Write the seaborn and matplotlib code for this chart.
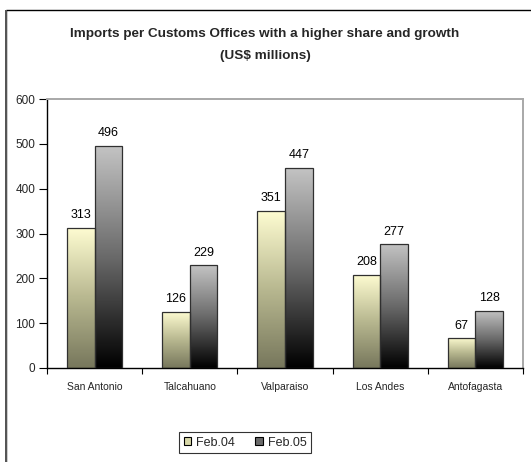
import numpy as np
import pandas as pd
import matplotlib
matplotlib.use("Agg")
import matplotlib.pyplot as plt
from matplotlib.colors import LinearSegmentedColormap
from matplotlib.patches import Rectangle, Patch
import seaborn as sns

# Imports per customs office, US$ millions
offices = ["San Antonio", "Talcahuano", "Valparaiso", "Los Andes", "Antofagasta"]
feb04 = [313, 126, 351, 208, 67]
feb05 = [496, 229, 447, 277, 128]
periods = ["Feb.04", "Feb.05"]
y_ticks = [0, 100, 200, 300, 400, 500, 600]

df = pd.DataFrame({
    "office": offices * 2,
    "period": [periods[0]] * len(offices) + [periods[1]] * len(offices),
    "value": feb04 + feb05,
})

sns.set_style("white")
plt.rcParams["font.family"] = ["Liberation Sans", "DejaVu Sans"]

fig = plt.figure(figsize=(5.31, 4.62), dpi=100)
ax = fig.add_axes([47 / 531, 1 - 368 / 462, 476 / 531, 269 / 462])

sns.barplot(data=df, x="office", y="value", hue="period", order=offices,
            hue_order=periods, width=0.58, gap=0, legend=False, ax=ax,
            edgecolor="#303030", linewidth=0.9, saturation=1)

# vertical gradients (light top, dark bottom) for each series
grad_maps = {
    periods[0]: LinearSegmentedColormap.from_list("g04", ["#77775c", "#b8b890", "#fffdd2"]),
    periods[1]: LinearSegmentedColormap.from_list("g05", ["#000000", "#6a6a6a", "#c4c4c4"]),
}
grad = np.linspace(0, 1, 256).reshape(-1, 1)
for container, period in zip(ax.containers, periods):
    for bar in container:
        x0, y0 = bar.get_x(), bar.get_y()
        w, h = bar.get_width(), bar.get_height()
        bar.set_facecolor("none")
        bar.set_zorder(3)
        img = ax.imshow(grad, cmap=grad_maps[period], origin="lower", aspect="auto",
                        extent=[x0, x0 + w, y0, y0 + h], zorder=2, interpolation="bilinear")
        img.set_clip_path(bar)
    ax.bar_label(container, fmt="%d", padding=4.5, fontsize=9, color="#000000")

ax.set_xlim(-0.5, len(offices) - 0.5)
ax.set_ylim(0, 600)
ax.set_yticks(y_ticks)
ax.set_xlabel("")
ax.set_ylabel("")

ax.tick_params(axis="y", which="major", direction="out", length=5.5, width=0.8,
               color="black", labelsize=8.5, pad=3, left=True)
ax.tick_params(axis="x", which="major", length=0, labelsize=7.5, pad=10)
ax.set_xticks(np.arange(-0.5, len(offices)), minor=True)
ax.tick_params(axis="x", which="minor", direction="out", length=4, width=0.8,
               color="black", bottom=True)

for side in ["left", "bottom"]:
    ax.spines[side].set_color("black")
    ax.spines[side].set_linewidth(1.0)
for side in ["top", "right"]:
    ax.spines[side].set_visible(True)
    ax.spines[side].set_color("#a8a8a8")
    ax.spines[side].set_linewidth(1.4)

fig.text(0.499, 1 - 33.5 / 462, "Imports per Customs Offices with a higher share and growth",
         ha="center", va="center", fontsize=9.7, fontweight="bold")
fig.text(0.499, 1 - 55.5 / 462, "(US$ millions)",
         ha="center", va="center", fontsize=9.7, fontweight="bold")

# chart frame
fig.patches.append(Rectangle((5.5 / 531, -0.1), 1.2, 1 - 9.5 / 462 + 0.1,
                             transform=fig.transFigure, fill=False,
                             edgecolor="black", linewidth=1.0))
fig.patches.append(Rectangle((4.5 / 531, -0.1), 2.5 / 531, 1 - 10 / 462 + 0.1,
                             transform=fig.transFigure, facecolor="#555555",
                             edgecolor="none"))

handles = [Patch(facecolor="#d8d8a8", edgecolor="black", linewidth=0.8),
           Patch(facecolor="#6a6a6a", edgecolor="black", linewidth=0.8)]
leg = fig.legend(handles, periods, loc="center", bbox_to_anchor=(245 / 531, 1 - 442.5 / 462),
                 ncol=2, fontsize=9, frameon=True, fancybox=False, handlelength=0.6,
                 handleheight=0.6, handletextpad=0.4, columnspacing=1.6,
                 borderpad=0.35, edgecolor="black")
leg.get_frame().set_linewidth(0.8)

fig.savefig("out.png", dpi=100)
